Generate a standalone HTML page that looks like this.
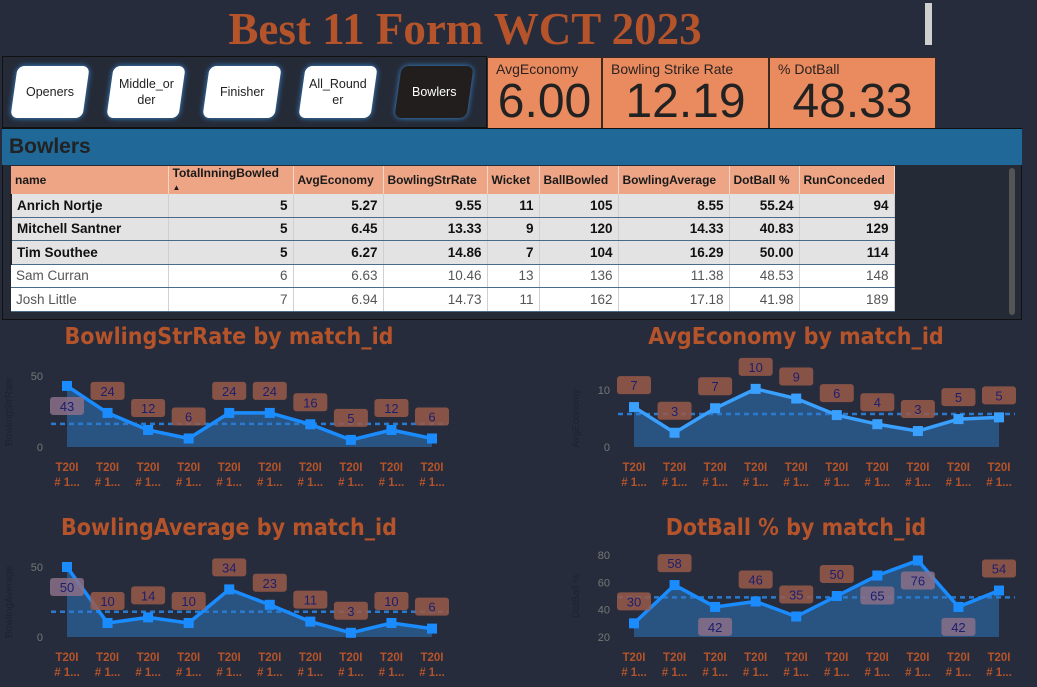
<!DOCTYPE html>
<html><head><meta charset="utf-8"><style>
body{margin:0;width:1037px;height:687px;background:#262c3b;overflow:hidden;position:relative;font-family:"Liberation Sans","DejaVu Sans",sans-serif}
.abs{position:absolute}
.title{left:0;width:930px;top:3px;text-align:center;font-family:"Liberation Serif",serif;font-weight:bold;font-size:45px;color:#b5532a}
.btn{top:66px;width:72px;height:52px;background:#fff;border-radius:7px;transform:skewX(-8deg);box-shadow:0 0 6px #3a8fd8;display:flex;align-items:center;justify-content:center;text-align:center;font-size:12.5px;color:#222;line-height:16px}
.btn span{transform:skewX(8deg)}
.kpi{top:57px;height:73px;background:#e98b5f;border:1px solid #3a2a22;box-sizing:border-box}
.kpi .l{position:absolute;left:8px;top:3px;font-size:14px;color:#2a2220}
.kpi .v{position:absolute;left:0;right:0;top:16px;text-align:center;font-size:48px;color:#222}
table{border-collapse:collapse;font-size:13.5px;table-layout:fixed}
th{background:#eea586;text-align:left;font-weight:bold;padding:0 4px;height:28px;border-right:1px solid #f6d6c6;font-size:12px;color:#1a1a1a;white-space:nowrap;line-height:13px}
td{text-align:right;padding:0 5px;height:22.5px;border-bottom:1px solid #4a6a8a;border-right:1px solid #d0d0d0}
tr.b td{background:#e3e3e3;font-weight:bold;color:#111}
tr.n td{background:#fff;color:#555}
td.nm{text-align:left}
</style></head><body>
<div class="abs title">Best 11 Form WCT 2023</div>
<div class="abs" style="left:925px;top:3px;width:7px;height:42px;background:#cfcfcf"></div>
<div class="abs" style="left:2px;top:56px;width:485px;height:72px;background:#252a37;border:1px solid #111;box-sizing:border-box"></div>
<div class="abs btn" style="left:14px"><span>Openers</span></div>
<div class="abs btn" style="left:110px"><span>Middle_or<br>der</span></div>
<div class="abs btn" style="left:206px"><span>Finisher</span></div>
<div class="abs btn" style="left:302px"><span>All_Round<br>er</span></div>
<div class="abs btn" style="left:398px;background:#221e1e;color:#fff"><span>Bowlers</span></div>
<div class="abs kpi" style="left:487px;width:115px"><div class="l">AvgEconomy</div><div class="v">6.00</div></div>
<div class="abs kpi" style="left:602px;width:167px"><div class="l">Bowling Strike Rate</div><div class="v">12.19</div></div>
<div class="abs kpi" style="left:769px;width:167px"><div class="l">% DotBall</div><div class="v">48.33</div></div>
<div class="abs" style="left:2px;top:128px;width:1020px;height:192px;background:#252a37;border:1px solid #111;box-sizing:border-box"></div>
<div class="abs" style="left:2px;top:129px;width:1020px;height:36px;background:#1f6898;font-size:21px;font-weight:bold;color:#222;padding-left:7px;line-height:36px;box-sizing:border-box">Bowlers</div>
<div class="abs" style="left:1009px;top:168px;width:6px;height:147px;background:#555;border-radius:3px"></div>
<table class="abs" style="left:10px;top:166px;width:883px">
<colgroup><col style="width:157px"><col style="width:125px"><col style="width:90px"><col style="width:104px"><col style="width:52px"><col style="width:79px"><col style="width:111px"><col style="width:70px"><col style="width:95px"></colgroup>
<tr><th>name</th><th>TotalInningBowled<br><span style="font-size:8px">▲</span></th><th>AvgEconomy</th><th>BowlingStrRate</th><th>Wicket</th><th>BallBowled</th><th>BowlingAverage</th><th>DotBall %</th><th>RunConceded</th></tr>
<tr class="b"><td class="nm" style="border-left:2px solid #222">Anrich Nortje</td><td>5</td><td>5.27</td><td>9.55</td><td>11</td><td>105</td><td>8.55</td><td>55.24</td><td>94</td></tr>
<tr class="b"><td class="nm" style="border-left:2px solid #222">Mitchell Santner</td><td>5</td><td>6.45</td><td>13.33</td><td>9</td><td>120</td><td>14.33</td><td>40.83</td><td>129</td></tr>
<tr class="b"><td class="nm" style="border-left:2px solid #222">Tim Southee</td><td>5</td><td>6.27</td><td>14.86</td><td>7</td><td>104</td><td>16.29</td><td>50.00</td><td>114</td></tr>
<tr class="n"><td class="nm">Sam Curran</td><td>6</td><td>6.63</td><td>10.46</td><td>13</td><td>136</td><td>11.38</td><td>48.53</td><td>148</td></tr>
<tr class="n"><td class="nm">Josh Little</td><td>7</td><td>6.94</td><td>14.73</td><td>11</td><td>162</td><td>17.18</td><td>41.98</td><td>189</td></tr>
</table>
<svg id="ch" class="abs" style="left:0;top:0" width="1037" height="687"></svg>
<script>
const categories=["T20I # 1...","T20I # 1...","T20I # 1...","T20I # 1...","T20I # 1...","T20I # 1...","T20I # 1...","T20I # 1...","T20I # 1...","T20I # 1..."];
const strRateValues=[43,24,12,6,24,24,16,5,12,6];
const strRateTicks=[0,50];
const strRateAvg=16.3;
const economyValues=[7.0,2.5,6.8,10.2,8.5,5.6,4.0,2.8,4.9,5.2];
const economyTicks=[0,10];
const economyAvg=5.8;
const bowlAvgValues=[50,10,14,10,34,23,11,3,10,6];
const bowlAvgTicks=[0,50];
const bowlAvgAvg=18;
const dotValues=[30,58,42,46,35,50,65,76,42,54];
const dotTicks=[20,40,60,80];
const dotAvg=49;
const dotLabelBelow=[0,0,1,0,0,0,1,1,1,0];
const strLabelBelow=[1,0,0,0,0,0,0,0,0,0];
const bowlLabelBelow=[1,0,0,0,0,0,0,0,0,0];
const NS="http://www.w3.org/2000/svg";
const svg=document.getElementById('ch');
function mk(t,a,p){const e=document.createElementNS(NS,t);for(const k in a)e.setAttribute(k,a[k]);(p||svg).appendChild(e);return e;}
function chart(name,title,ytitle,vals,ticks,avg,below,cfg){
  const g=mk('g',{});
  
  
  const yMin=ticks[0],yMax=ticks[ticks.length-1];
  const ys=v=>cfg.yb-(v-yMin)/(yMax-yMin)*(cfg.yb-cfg.yt);
  const n=vals.length,xs=i=>cfg.x0+i*(cfg.x1-cfg.x0)/(n-1);
  const tt=mk('text',{x:cfg.tx,y:cfg.ty,'text-anchor':'middle','font-size':23,'font-weight':'bold',fill:'#b5532a','font-family':'DejaVu Sans Condensed, DejaVu Sans, sans-serif'},g);tt.textContent=title;
  
  
  const yt=mk('text',{x:0,y:0,transform:`translate(${cfg.x0-55},${(cfg.yt+cfg.yb)/2}) rotate(-90)`,'text-anchor':'middle','font-size':10,fill:'#1e2230'},g);yt.textContent=ytitle;
  
  
  ticks.forEach(t=>{const e=mk('text',{x:cfg.x0-24,y:ys(t)+4,'text-anchor':'end','font-size':11,fill:'#777'},g);e.textContent=t;
    
    });
  let d=`M${xs(0)},${ys(yMin)}`;vals.forEach((v,i)=>d+=`L${xs(i)},${ys(v)}`);d+=`L${xs(n-1)},${ys(yMin)}Z`;
  const ar=mk('path',{d,fill:'#2a5f95','fill-opacity':0.8},g);
  
  
  const al=mk('line',{x1:cfg.x0-16,x2:cfg.x1+16,y1:ys(avg),y2:ys(avg),stroke:'#2a7bd0','stroke-width':2.5,'stroke-dasharray':'5,4'},g);
  
  
  const ln=mk('polyline',{points:vals.map((v,i)=>xs(i)+','+ys(v)).join(' '),fill:'none',stroke:cfg.lc,'stroke-width':3.5},g);
  
  
  vals.forEach((v,i)=>{const p=mk('rect',{x:xs(i)-5,y:ys(v)-5,width:10,height:10,fill:cfg.lc},g);
    
    });
  vals.forEach((v,i)=>{const b=below&&below[i];const cy=b?ys(v)+20:ys(v)-22;
    const r=mk('rect',{x:xs(i)-17,y:cy-9,width:34,height:18,rx:3,fill:b?'#8a7088':'#9a5a4a','fill-opacity':0.85},g);
    
    
    const t=mk('text',{x:xs(i),y:cy+5,'text-anchor':'middle','font-size':13,fill:'#1c1e6e'},g);t.textContent=Math.round(v);
    
    });
  categories.forEach((c,i)=>{const parts=c.split(' # ');
    const t=mk('text',{x:xs(i),y:cfg.yb+24,'text-anchor':'middle','font-size':11.5,'font-weight':'bold',fill:'#b5532a'},g);t.textContent=parts[0];
    
    
    const t2=mk('text',{x:xs(i),y:cfg.yb+39,'text-anchor':'middle','font-size':11.5,'font-weight':'bold',fill:'#b5532a'},g);t2.textContent='# '+parts[1];
    
    });
}
chart('strike-rate-chart','BowlingStrRate by match_id','BowlingStrRate',strRateValues,strRateTicks,strRateAvg,strLabelBelow,{x0:67,x1:432,yb:447,yt:376,tx:229,ty:344,lc:'#1a8cff'});
chart('economy-chart','AvgEconomy by match_id','AvgEconomy',economyValues,economyTicks,economyAvg,null,{x0:634,x1:999,yb:447,yt:390,tx:796,ty:344,lc:'#3aa0ff'});
chart('bowling-average-chart','BowlingAverage by match_id','BowlingAverage',bowlAvgValues,bowlAvgTicks,bowlAvgAvg,bowlLabelBelow,{x0:67,x1:432,yb:637,yt:567,tx:229,ty:535,lc:'#1a8cff'});
chart('dotball-chart','DotBall % by match_id','DotBall %',dotValues,dotTicks,dotAvg,dotLabelBelow,{x0:634,x1:999,yb:637,yt:555,tx:796,ty:535,lc:'#1a8cff'});
</script>
</body></html>
